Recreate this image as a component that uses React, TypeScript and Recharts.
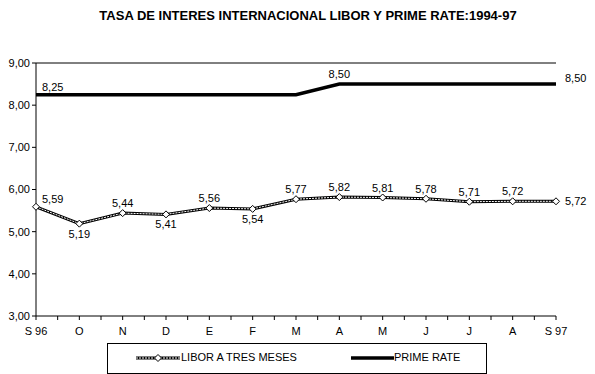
import React from 'react';
import { LineChart, Line, XAxis, YAxis, ReferenceLine } from 'recharts';

// months Sep-96 .. Sep-97
const categories = ['S 96', 'O', 'N', 'D', 'E', 'F', 'M', 'A', 'M', 'J', 'J', 'A', 'S 97'];
const libor = [5.59, 5.19, 5.44, 5.41, 5.56, 5.54, 5.77, 5.82, 5.81, 5.78, 5.71, 5.72, 5.72];
const prime = [8.25, 8.25, 8.25, 8.25, 8.25, 8.25, 8.25, 8.5, 8.5, 8.5, 8.5, 8.5, 8.5];
const yTicks = [3, 4, 5, 6, 7, 8, 9];

// label placement per point (style only)
const liborLabelPos = ['ur', 'b', 'a', 'b', 'a', 'b', 'a', 'a', 'a', 'a', 'a', 'a', 'r'];
const primeLabelPos = ['ur', '', '', '', '', '', '', 'a', '', '', '', '', 'ru'];

const data = categories.map((c, i) => ({ cat: c, libor: libor[i], prime: prime[i] }));

const W = 595;
const H = 374;
const MARGIN = { top: 63, right: 39, bottom: 38, left: 0 };
const Y_AXIS_W = 36;
const PLOT_W = W - MARGIN.left - MARGIN.right - Y_AXIS_W;
const STEP = PLOT_W / (categories.length - 1);
const FONT = '"Liberation Sans", Arial, sans-serif';

const fmt = (v: number) => v.toFixed(2).replace('.', ',');

const XTick = (props: any) => {
  const { x, y, payload } = props;
  const idx = payload?.index ?? props.index ?? 0;
  return (
    <g>
      <line x1={x} x2={x} y1={y} y2={y + 4} stroke="#000" />
      {idx > 0 && <line x1={x - STEP / 2} x2={x - STEP / 2} y1={y} y2={y + 4} stroke="#000" />}
      <text x={x} y={y + 19} textAnchor="middle" fontSize={11} fill="#000" fontFamily={FONT}>
        {payload.value}
      </text>
    </g>
  );
};

const Diamond = (props: any) => {
  const { cx, cy } = props;
  if (cx == null || cy == null) return null;
  const r = 3.5;
  return (
    <path
      d={`M${cx},${cy - r}L${cx + r},${cy}L${cx},${cy + r}L${cx - r},${cy}Z`}
      fill="#fff"
      stroke="#000"
      strokeWidth={1}
    />
  );
};

const makeLabel = (positions: string[]) => (props: any) => {
  const { x, y, value, index } = props;
  const pos = positions[index];
  if (!pos) return null;
  let tx = x;
  let ty = y;
  let anchor: 'start' | 'middle' = 'middle';
  if (pos === 'a') ty = y - 6;
  else if (pos === 'b') ty = y + 14;
  else if (pos === 'ur') { tx = x + 6; ty = y - 4; anchor = 'start'; }
  else if (pos === 'r') { tx = x + 9; ty = y + 4; anchor = 'start'; }
  else if (pos === 'ru') { tx = x + 9; ty = y - 2; anchor = 'start'; }
  return (
    <text key={`l-${index}`} x={tx} y={ty} textAnchor={anchor} fontSize={11} fill="#000" fontFamily={FONT}>
      {fmt(value)}
    </text>
  );
};

const LiborSwatch = () => (
  <svg width={44} height={10} style={{ display: 'block' }}>
    <line x1={0} x2={44} y1={5} y2={5} stroke="#000" strokeWidth={3} />
    <line x1={0} x2={44} y1={5} y2={5} stroke="#fff" strokeWidth={1} strokeDasharray="2 1" />
    <path d="M22,1.5L25.5,5L22,8.5L18.5,5Z" fill="#fff" stroke="#000" />
  </svg>
);

const PrimeSwatch = () => (
  <svg width={43} height={10} style={{ display: 'block' }}>
    <line x1={0} x2={43} y1={5} y2={5} stroke="#000" strokeWidth={3.5} />
  </svg>
);

export default function App() {
  return (
    <div style={{ position: 'absolute', left: 0, top: 0, width: W, height: H, background: '#fff', fontFamily: FONT }}>
      <div
        style={{
          position: 'absolute',
          left: 0,
          width: 616,
          top: 8,
          textAlign: 'center',
          fontSize: 13,
          fontWeight: 'bold',
          color: '#000',
        }}
      >
        TASA DE INTERES INTERNACIONAL LIBOR Y PRIME RATE:1994-97
      </div>
      <LineChart width={W} height={H} data={data} margin={MARGIN}>
        <XAxis
          dataKey="cat"
          height={20}
          axisLine={{ stroke: '#000' }}
          tickLine={false}
          tickSize={0}
          tickMargin={0}
          interval={0}
          tick={<XTick />}
        />
        <YAxis
          domain={[3, 9]}
          ticks={yTicks}
          width={Y_AXIS_W}
          axisLine={{ stroke: '#000' }}
          tickLine={{ stroke: '#000' }}
          tickSize={4}
          tickMargin={2}
          tickFormatter={fmt}
          tick={{ fill: '#000', fontSize: 11, fontFamily: FONT }}
        />
        <ReferenceLine y={9} stroke="#000" />
        <ReferenceLine x="S 97" stroke="#000" />
        <Line
          dataKey="prime"
          stroke="#000"
          strokeWidth={3.5}
          dot={false}
          activeDot={false}
          isAnimationActive={false}
          label={makeLabel(primeLabelPos)}
        />
        <Line
          dataKey="libor"
          stroke="#000"
          strokeWidth={3}
          dot={false}
          activeDot={false}
          isAnimationActive={false}
        />
        <Line
          dataKey="libor"
          stroke="#fff"
          strokeWidth={1}
          strokeDasharray="2 1"
          dot={<Diamond />}
          activeDot={false}
          isAnimationActive={false}
          label={makeLabel(liborLabelPos)}
        />
      </LineChart>
      <div
        style={{
          position: 'absolute',
          left: 107,
          top: 343,
          width: 380,
          height: 31,
          border: '1px solid #000',
          boxSizing: 'border-box',
          fontSize: 11,
          color: '#000',
        }}
      >
        <div style={{ position: 'absolute', left: 28, top: 9 }}>
          <LiborSwatch />
        </div>
        <div style={{ position: 'absolute', left: 73, top: 7 }}>LIBOR A TRES MESES</div>
        <div style={{ position: 'absolute', left: 243, top: 9 }}>
          <PrimeSwatch />
        </div>
        <div style={{ position: 'absolute', left: 286, top: 7 }}>PRIME RATE</div>
      </div>
    </div>
  );
}
